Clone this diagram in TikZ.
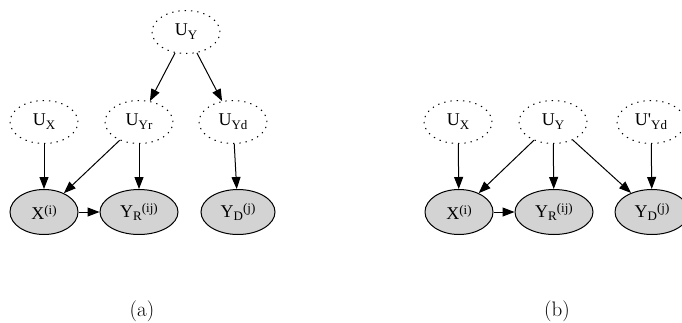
\documentclass[tikz,border=0pt]{standalone}
\usepackage{fontspec}
\newfontfamily\gvfont{Liberation Serif}
\usetikzlibrary{shapes.geometric,arrows.meta}

% sub- and superscripts placed one after another, as in HTML-style labels
\newcommand\gsub[1]{\raisebox{-3.8pt}{\fontsize{13}{13}\selectfont #1}}
\newcommand\gsup[1]{\raisebox{5pt}{\fontsize{13}{13}\selectfont #1}}

\tikzset{
  gvtext/.style={font=\gvfont\fontsize{18}{18}\selectfont, inner sep=0pt},
  latent/.style={gvtext, ellipse, draw, line width=1pt,
    dash pattern=on 1.3pt off 5pt, minimum width=68pt, minimum height=43pt},
  observed/.style={gvtext, ellipse, draw, line width=1pt, fill={rgb,255:red,211;green,211;blue,211},
    minimum height=45pt},
  edge/.style={line width=1pt, -{Triangle[length=12pt,width=9pt]}},
  caption/.style={font=\fontsize{21}{21}\selectfont, inner sep=0pt}
}

\begin{document}
\begin{tikzpicture}[x=1pt,y=-1pt]
\useasboundingbox (0,0) rectangle (682,322);

% ---- panel (a)
\node[latent] (aUY)  at (186,32)  {U\gsub{Y}};
\node[latent] (aUX)  at (44,122)  {U\gsub{X}};
\node[latent] (aUYr) at (139,122) {U\gsub{Yr}};
\node[latent] (aUYd) at (233,122) {U\gsub{Yd}};
\node[observed, minimum width=68pt] (aX)  at (44,212)  {X\gsup{(i)}};
\node[observed, minimum width=78pt] (aYR) at (139,212) {Y\gsub{R}\gsup{(ij)}};
\node[observed, minimum width=74pt] (aYD) at (238,212) {Y\gsub{D}\gsup{(j)}};

\draw[edge] (aUY) -- (aUYr);
\draw[edge] (aUY) -- (aUYd);
\draw[edge] (aUX) -- (aX);
\draw[edge] (aUYr) -- (aX);
\draw[edge] (aUYr) -- (aYR);
\draw[edge] (aUYd) -- (aYD);
\draw[edge] (aX) -- (aYR);

\node[caption] (capa) at (142,311) {(a)};

% ---- panel (b)
\node[latent] (bUX)  at (458,122) {U\gsub{X}};
\node[latent] (bUY)  at (553,122) {U\gsub{Y}};
\node[latent] (bUYd) at (651,122) {U\textquotesingle\gsub{Yd}};
\node[observed, minimum width=68pt] (bX)  at (459,212) {X\gsup{(i)}};
\node[observed, minimum width=78pt] (bYR) at (554,212) {Y\gsub{R}\gsup{(ij)}};
\node[observed, minimum width=74pt] (bYD) at (652,212) {Y\gsub{D}\gsup{(j)}};

\draw[edge] (bUX) -- (bX);
\draw[edge] (bUY) -- (bX);
\draw[edge] (bUY) -- (bYR);
\draw[edge] (bUY) -- (bYD);
\draw[edge] (bUYd) -- (bYD);
\draw[edge] (bX) -- (bYR);

\node[caption] (capb) at (557,311) {(b)};
\end{tikzpicture}
\end{document}
